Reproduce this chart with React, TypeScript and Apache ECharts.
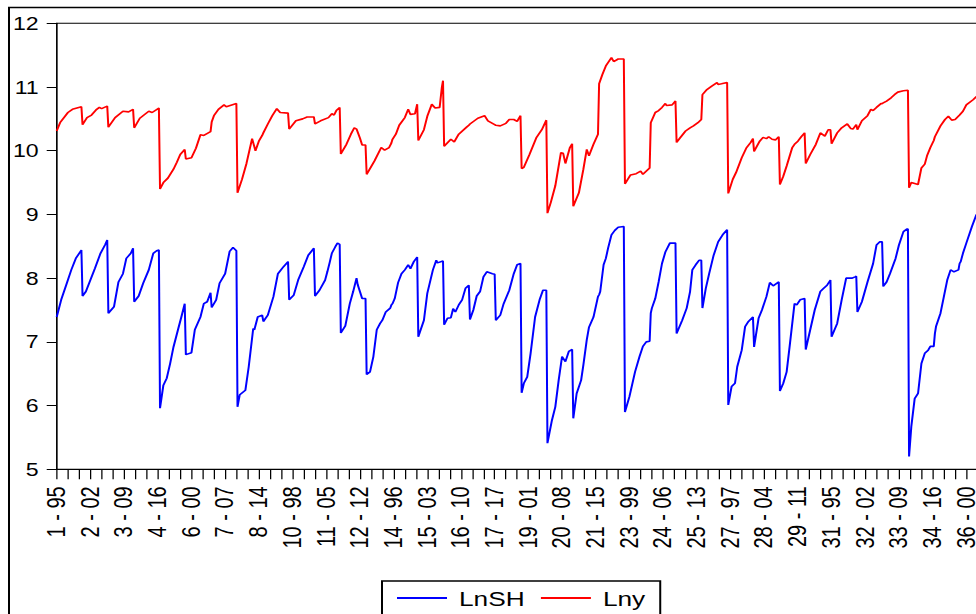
import React, { useEffect, useRef } from "react";
import * as echarts from "echarts";

// Panel structure: 36 cross-sections, 23 years each (1995-2017)
const FIRST_YEAR = 1995;
const YEARS_PER_ID = 23;
const TOTAL_OBS = 828;
const LABEL_STEP = 30; // a tick label every 30 observations
const TICK_STEP = 10;

const yTicks = [5, 6, 7, 8, 9, 10, 11, 12];
const seriesNames = ["LnSH", "Lny"];

// [cross-section id, year offset t, value]
const lnshPoints: [number, number, number][] = [
  [1, 0, 7.39], [1, 4, 7.66], [1, 9, 7.92], [1, 13, 8.13], [1, 17, 8.31], [1, 22, 8.44],
  [2, 0, 7.72], [2, 3, 7.79], [2, 7, 7.97], [2, 11, 8.15], [2, 16, 8.39], [2, 20, 8.52], [2, 22, 8.6],
  [3, 0, 7.45], [3, 5, 7.55], [3, 9, 7.94], [3, 13, 8.07], [3, 16, 8.31], [3, 20, 8.39], [3, 22, 8.47],
  [4, 0, 7.63], [4, 4, 7.72], [4, 8, 7.92], [4, 13, 8.13], [4, 17, 8.39], [4, 20, 8.43], [4, 22, 8.44],
  [5, 0, 5.96], [5, 3, 6.32], [5, 6, 6.43], [5, 9, 6.66], [5, 12, 6.92], [5, 16, 7.19], [5, 19, 7.39], [5, 22, 7.6],
  [6, 0, 6.8], [6, 5, 6.83], [6, 8, 7.19], [6, 13, 7.39], [6, 16, 7.6], [6, 19, 7.63], [6, 22, 7.77],
  [7, 0, 7.54], [7, 4, 7.66], [7, 7, 7.92], [7, 12, 8.07], [7, 16, 8.42], [7, 19, 8.48], [7, 22, 8.43],
  [8, 0, 5.98], [8, 2, 6.17], [8, 7, 6.24], [8, 10, 6.61], [8, 14, 7.21], [8, 15, 7.19], [8, 18, 7.39], [8, 22, 7.42],
  [9, 0, 7.32], [9, 4, 7.42], [9, 9, 7.71], [9, 13, 8.07], [9, 18, 8.18], [9, 22, 8.26],
  [10, 0, 7.66], [10, 4, 7.73], [10, 8, 7.97], [10, 13, 8.18], [10, 17, 8.36], [10, 22, 8.47],
  [11, 0, 7.72], [11, 4, 7.81], [11, 9, 7.97], [11, 11, 8.1], [11, 13, 8.24], [11, 15, 8.39], [11, 18, 8.49], [11, 20, 8.55], [11, 22, 8.53],
  [12, 0, 7.14], [12, 4, 7.25], [12, 8, 7.6], [12, 11, 7.79], [12, 14, 8.0], [12, 15, 7.9], [12, 17, 7.79], [12, 19, 7.68], [12, 22, 7.68],
  [13, 0, 6.49], [13, 3, 6.53], [13, 6, 6.77], [13, 9, 7.19], [13, 12, 7.29], [13, 14, 7.34], [13, 17, 7.47], [13, 21, 7.53], [13, 22, 7.58],
  [14, 0, 7.6], [14, 2, 7.68], [14, 5, 7.93], [14, 8, 8.07], [14, 11, 8.13], [14, 14, 8.21], [14, 16, 8.15], [14, 19, 8.26], [14, 22, 8.33],
  [15, 0, 7.08], [15, 5, 7.34], [15, 8, 7.76], [15, 13, 8.13], [15, 16, 8.28], [15, 17, 8.24], [15, 22, 8.27],
  [16, 0, 7.27], [16, 3, 7.37], [16, 6, 7.38], [16, 8, 7.52], [16, 10, 7.47], [16, 13, 7.58], [16, 16, 7.66], [16, 19, 7.84], [16, 22, 7.89],
  [17, 0, 7.35], [17, 3, 7.5], [17, 6, 7.72], [17, 9, 7.79], [17, 12, 8.02], [17, 15, 8.1], [17, 20, 8.07], [17, 22, 8.06],
  [18, 0, 7.34], [18, 4, 7.42], [18, 7, 7.6], [18, 12, 7.81], [18, 16, 8.07], [18, 19, 8.21], [18, 22, 8.23],
  [19, 0, 6.2], [19, 2, 6.35], [19, 5, 6.45], [19, 8, 6.82], [19, 12, 7.39], [19, 16, 7.66], [19, 19, 7.81], [19, 22, 7.81],
  [20, 0, 5.41], [20, 4, 5.77], [20, 7, 5.98], [20, 10, 6.4], [20, 13, 6.77], [20, 16, 6.69], [20, 19, 6.85], [20, 22, 6.88],
  [21, 0, 5.8], [21, 3, 6.19], [21, 7, 6.4], [21, 9, 6.64], [21, 12, 7.03], [21, 14, 7.23], [21, 18, 7.39], [21, 22, 7.71],
  [22, 0, 7.74], [22, 1, 7.79], [22, 4, 8.21], [22, 6, 8.31], [22, 8, 8.47], [22, 11, 8.68], [22, 14, 8.75], [22, 17, 8.8], [22, 22, 8.81],
  [23, 0, 5.9], [23, 4, 6.14], [23, 9, 6.53], [23, 13, 6.77], [23, 16, 6.93], [23, 19, 7.0], [23, 22, 7.01],
  [24, 0, 7.45], [24, 1, 7.53], [24, 4, 7.68], [24, 7, 7.94], [24, 10, 8.23], [24, 13, 8.41], [24, 17, 8.55], [24, 22, 8.55],
  [25, 0, 7.13], [25, 5, 7.34], [25, 9, 7.53], [25, 12, 7.79], [25, 14, 8.13], [25, 17, 8.21], [25, 20, 8.28], [25, 22, 8.28],
  [26, 0, 7.53], [26, 3, 7.84], [26, 6, 8.07], [26, 10, 8.36], [26, 14, 8.57], [26, 18, 8.68], [26, 22, 8.76],
  [27, 0, 6.01], [27, 3, 6.3], [27, 6, 6.35], [27, 8, 6.61], [27, 12, 6.87], [27, 15, 7.24], [27, 18, 7.32], [27, 22, 7.39],
  [28, 0, 6.92], [28, 4, 7.37], [28, 7, 7.5], [28, 11, 7.71], [28, 14, 7.93], [28, 17, 7.88], [28, 22, 7.94],
  [29, 0, 6.23], [29, 3, 6.35], [29, 6, 6.53], [29, 9, 6.98], [29, 13, 7.6], [29, 15, 7.58], [29, 18, 7.66], [29, 22, 7.68],
  [30, 0, 6.88], [30, 4, 7.19], [30, 8, 7.5], [30, 13, 7.79], [30, 16, 7.84], [30, 19, 7.89], [30, 22, 7.97],
  [31, 0, 7.08], [31, 5, 7.29], [31, 9, 7.66], [31, 13, 8.0], [31, 18, 8.0], [31, 21, 8.02], [31, 22, 8.03],
  [32, 0, 7.47], [32, 4, 7.63], [32, 9, 7.94], [32, 14, 8.23], [32, 17, 8.52], [32, 20, 8.57], [32, 22, 8.57],
  [33, 0, 7.87], [33, 3, 7.94], [33, 6, 8.07], [33, 11, 8.31], [33, 14, 8.52], [33, 18, 8.73], [33, 21, 8.77], [33, 22, 8.77],
  [34, 0, 5.2], [34, 2, 5.67], [34, 5, 6.11], [34, 8, 6.19], [34, 11, 6.66], [34, 14, 6.82], [34, 17, 6.87], [34, 19, 6.93], [34, 22, 6.93],
  [35, 0, 7.13], [35, 1, 7.24], [35, 5, 7.45], [35, 8, 7.71], [35, 11, 7.97], [35, 14, 8.13], [35, 17, 8.1], [35, 21, 8.13], [35, 22, 8.23],
  [36, 0, 8.26], [36, 2, 8.39], [36, 5, 8.55], [36, 10, 8.81], [36, 14, 9.0],
];

const lnyPoints: [number, number, number][] = [
  [1, 0, 10.31], [1, 3, 10.44], [1, 10, 10.6], [1, 14, 10.65], [1, 22, 10.69],
  [2, 0, 10.41], [2, 4, 10.52], [2, 8, 10.56], [2, 12, 10.64], [2, 15, 10.68], [2, 17, 10.66], [2, 22, 10.7],
  [3, 0, 10.37], [3, 6, 10.52], [3, 13, 10.62], [3, 18, 10.61], [3, 22, 10.65],
  [4, 0, 10.36], [4, 5, 10.51], [4, 13, 10.62], [4, 16, 10.6], [4, 22, 10.67],
  [5, 0, 9.4], [5, 3, 9.5], [5, 7, 9.57], [5, 12, 9.71], [5, 15, 9.82], [5, 18, 9.94], [5, 22, 10.02],
  [6, 0, 9.87], [6, 5, 9.89], [6, 9, 10.04], [6, 13, 10.25], [6, 16, 10.24], [6, 22, 10.3],
  [7, 0, 10.45], [7, 2, 10.55], [7, 6, 10.65], [7, 11, 10.72], [7, 13, 10.69], [7, 22, 10.74],
  [8, 0, 9.34], [8, 4, 9.55], [8, 8, 9.8], [8, 13, 10.19], [8, 16, 10.0], [8, 19, 10.15], [8, 22, 10.24],
  [9, 0, 10.28], [9, 4, 10.42], [9, 8, 10.55], [9, 12, 10.66], [9, 15, 10.6], [9, 22, 10.59],
  [10, 0, 10.34], [10, 6, 10.47], [10, 12, 10.5], [10, 16, 10.53], [10, 22, 10.53],
  [11, 0, 10.42], [11, 5, 10.47], [11, 12, 10.52], [11, 15, 10.58], [11, 17, 10.56], [11, 19, 10.63], [11, 22, 10.68],
  [12, 0, 9.95], [12, 5, 10.1], [12, 9, 10.26], [12, 12, 10.36], [12, 14, 10.34], [12, 17, 10.2], [12, 19, 10.09], [12, 22, 10.09],
  [13, 0, 9.63], [13, 7, 9.84], [13, 13, 10.05], [13, 16, 10.01], [13, 20, 10.05], [13, 22, 10.12],
  [14, 0, 10.18], [14, 3, 10.26], [14, 6, 10.4], [14, 11, 10.52], [14, 14, 10.65], [14, 16, 10.57], [14, 20, 10.58], [14, 22, 10.73],
  [15, 0, 10.16], [15, 5, 10.33], [15, 8, 10.54], [15, 12, 10.73], [15, 15, 10.67], [15, 19, 10.68], [15, 21, 11.0], [15, 22, 11.1],
  [16, 0, 10.07], [16, 6, 10.18], [16, 9, 10.14], [16, 13, 10.26], [16, 20, 10.37], [16, 22, 10.4],
  [17, 0, 10.42], [17, 7, 10.51], [17, 13, 10.55], [17, 16, 10.47], [17, 22, 10.41],
  [18, 0, 10.4], [18, 4, 10.39], [18, 9, 10.43], [18, 12, 10.49], [18, 16, 10.49], [18, 19, 10.46], [18, 22, 10.55],
  [19, 0, 9.72], [19, 2, 9.74], [19, 7, 9.94], [19, 13, 10.2], [19, 18, 10.33], [19, 22, 10.48],
  [20, 0, 9.02], [20, 3, 9.19], [20, 7, 9.45], [20, 12, 9.97], [20, 14, 9.96], [20, 16, 9.8], [20, 20, 10.05], [20, 22, 10.11],
  [21, 0, 9.13], [21, 5, 9.34], [21, 9, 9.71], [21, 12, 10.02], [21, 14, 9.92], [21, 18, 10.1], [21, 22, 10.26],
  [22, 0, 11.05], [22, 3, 11.2], [22, 6, 11.33], [22, 11, 11.46], [22, 13, 11.4], [22, 17, 11.44], [22, 22, 11.44],
  [23, 0, 9.48], [23, 5, 9.62], [23, 10, 9.64], [23, 14, 9.68], [23, 16, 9.63], [23, 22, 9.73],
  [24, 0, 10.44], [24, 4, 10.6], [24, 7, 10.63], [24, 10, 10.68], [24, 13, 10.74], [24, 14, 10.71], [24, 19, 10.72], [24, 22, 10.78],
  [25, 0, 10.13], [25, 3, 10.2], [25, 8, 10.31], [25, 12, 10.36], [25, 15, 10.39], [25, 19, 10.44], [25, 22, 10.49],
  [26, 0, 10.88], [26, 4, 10.96], [26, 8, 11.01], [26, 13, 11.07], [26, 14, 11.04], [26, 17, 11.05], [26, 22, 11.07],
  [27, 0, 9.33], [27, 4, 9.55], [27, 7, 9.66], [27, 12, 9.89], [27, 16, 10.04], [27, 20, 10.13], [27, 22, 10.19],
  [28, 0, 9.99], [28, 5, 10.15], [28, 8, 10.21], [28, 11, 10.19], [28, 13, 10.22], [28, 16, 10.18], [28, 19, 10.17], [28, 22, 10.22],
  [29, 0, 9.47], [29, 3, 9.6], [29, 6, 9.76], [29, 11, 10.05], [29, 13, 10.1], [29, 16, 10.15], [29, 19, 10.22], [29, 22, 10.28],
  [30, 0, 9.8], [30, 4, 9.94], [30, 9, 10.1], [30, 13, 10.28], [30, 17, 10.23], [30, 20, 10.33], [30, 22, 10.33],
  [31, 0, 10.11], [31, 5, 10.28], [31, 9, 10.36], [31, 14, 10.42], [31, 17, 10.35], [31, 19, 10.34], [31, 22, 10.41],
  [32, 0, 10.33], [32, 4, 10.47], [32, 9, 10.55], [32, 12, 10.65], [32, 14, 10.63], [32, 17, 10.68], [32, 21, 10.74], [32, 22, 10.74],
  [33, 0, 10.75], [33, 3, 10.78], [33, 7, 10.83], [33, 10, 10.88], [33, 13, 10.92], [33, 18, 10.94], [33, 22, 10.95],
  [34, 0, 9.42], [34, 2, 9.5], [34, 8, 9.47], [34, 11, 9.73], [34, 14, 9.79], [34, 16, 9.92], [34, 19, 10.05], [34, 22, 10.16],
  [35, 0, 10.22], [35, 5, 10.39], [35, 9, 10.49], [35, 12, 10.54], [35, 15, 10.48], [35, 18, 10.49], [35, 22, 10.56],
  [36, 0, 10.58], [36, 2, 10.62], [36, 5, 10.72], [36, 11, 10.8], [36, 14, 10.85],
];

const FONT = '"Liberation Sans", Arial, Helvetica, sans-serif';
const STRETCH = 1.25; // the reference is horizontally stretched

function toObs(points: [number, number, number][]) {
  return points.map(([id, t, v]) => [(id - 1) * YEARS_PER_ID + t, v]);
}

function obsLabel(value: number) {
  if (value % LABEL_STEP !== 0) return "";
  const id = Math.floor(value / YEARS_PER_ID) + 1;
  const yr = (FIRST_YEAR + (value % YEARS_PER_ID)) % 100;
  return `${id} - ${String(yr).padStart(2, "0")}`;
}

export default function App() {
  const ref = useRef<HTMLDivElement>(null);

  useEffect(() => {
    if (!ref.current) return;
    const chart = echarts.init(ref.current, undefined, { renderer: "svg" });
    const sx = (px: number) => px / STRETCH;
    chart.setOption({
      animation: false,
      backgroundColor: "#fff",
      grid: {
        left: sx(56.7),
        top: 23.3,
        width: sx((TOTAL_OBS - 1) * 1.123),
        height: 446,
        show: true,
        borderColor: "#000",
        borderWidth: 1,
        backgroundColor: "transparent",
      },
      graphic: [
        {
          type: "rect",
          shape: { x: sx(9), y: 7.5, width: 900, height: 700 },
          style: { fill: "none", stroke: "#000", lineWidth: 1.6 },
          silent: true,
        },
      ],
      legend: {
        data: seriesNames,
        left: sx(382),
        top: 581,
        orient: "horizontal",
        icon: "rect",
        padding: [6, sx(15), 6, sx(15)],
        itemGap: 13,
        itemWidth: sx(50),
        itemHeight: 1.8,
        borderColor: "#000",
        borderWidth: 1.6,
        backgroundColor: "#fff",
        textStyle: {
          fontFamily: FONT,
          fontSize: 21,
          color: "#000",
          lineHeight: 22,
          padding: [0, 0, 0, 4.6],
        },
      },
      xAxis: {
        type: "value",
        min: 0,
        max: TOTAL_OBS - 1,
        interval: TICK_STEP,
        splitLine: { show: false },
        axisLine: { show: true, onZero: false, lineStyle: { color: "#000", width: 1 } },
        axisTick: { show: true, length: 10, lineStyle: { color: "#000", width: 1 } },
        axisLabel: {
          show: true,
          rotate: 90,
          margin: 17,
          fontFamily: FONT,
          fontSize: 20,
          color: "#000",
          showMaxLabel: false,
          formatter: (v: number) => obsLabel(v),
        },
      },
      yAxis: {
        type: "value",
        min: yTicks[0],
        max: yTicks[yTicks.length - 1],
        interval: 1,
        splitLine: { show: false },
        axisLine: { show: true, lineStyle: { color: "#000", width: 1 } },
        axisTick: { show: true, length: sx(10), lineStyle: { color: "#000", width: 1 } },
        axisLabel: {
          margin: sx(18),
          fontFamily: FONT,
          fontSize: 18.5,
          color: "#000",
        },
      },
      series: [
        {
          name: seriesNames[0],
          type: "line",
          data: toObs(lnshPoints),
          symbol: "none",
          lineStyle: { color: "#0000ff", width: 1.6 },
          itemStyle: { color: "#0000ff" },
        },
        {
          name: seriesNames[1],
          type: "line",
          data: toObs(lnyPoints),
          symbol: "none",
          lineStyle: { color: "#ff0000", width: 1.6 },
          itemStyle: { color: "#ff0000" },
        },
      ],
    });
    return () => chart.dispose();
  }, []);

  return (
    <div
      style={{
        position: "fixed",
        left: 0,
        top: 0,
        width: 976,
        height: 614,
        overflow: "hidden",
        background: "#fff",
      }}
    >
      <div
        ref={ref}
        style={{
          width: 800,
          height: 614,
          transform: `scaleX(${STRETCH})`,
          transformOrigin: "0 0",
        }}
      />
    </div>
  );
}
